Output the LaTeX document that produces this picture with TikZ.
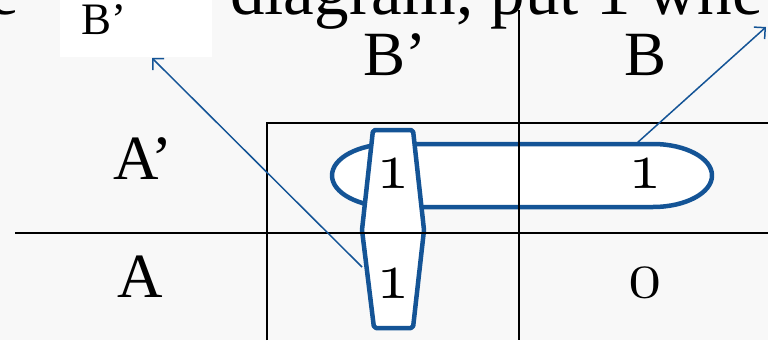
\RequirePackage{fix-cm}
\documentclass[tikz,border=0pt]{standalone}
\usepackage{fontspec}
\setmainfont{Liberation Serif}
\usetikzlibrary{arrows.meta}
\definecolor{kblue}{RGB}{20,84,150}
\definecolor{bgpat}{RGB}{248,248,248}
\newcommand{\osdigit}[1]{{\usefont{OML}{cmm}{m}{it}#1}}
\begin{document}
\begin{tikzpicture}[x=1pt,y=-1pt,
  gridline/.style={line width=2.5pt,black},
  kloop/.style={line width=4.5pt,draw=kblue,fill=white,line join=round},
  pointer/.style={line width=1.5pt,kblue,-{Straight Barb[length=8pt,width=16pt,line width=1.5pt]}},
  lbl/.style={font=\fontsize{63}{63}\selectfont,inner sep=0pt,anchor=base},
  digit/.style={font=\fontsize{68}{68}\selectfont,inner sep=0pt,anchor=base},
  headtxt/.style={font=\fontsize{69}{69}\selectfont,inner sep=0pt,anchor=base west},
]
\useasboundingbox (0,0) rectangle (768,340);
\clip (0,0) rectangle (768,340);
\fill[bgpat] (0,0) rectangle (768,340);
% cropped slide text at the top
\node[headtxt] (head1) at (-12,14) {e};
\node[headtxt] (head2) at (230,14) {diagram, put 1 whe};
% white tag box
\node[fill=white,minimum width=152pt,minimum height=57pt,anchor=north west,inner sep=0pt] (tag) at (60,0) {};
\node[font=\fontsize{45}{45}\selectfont,inner sep=0pt,anchor=base west] (tagtxt) at (81,34) {B’};
% loops
\filldraw[kloop] (391,144) -- (653,144)
  arc[start angle=-90,end angle=90,x radius=59,y radius=31.5]
  -- (391,207)
  arc[start angle=90,end angle=270,x radius=59,y radius=31.5] -- cycle;
\filldraw[kloop,rounded corners=2pt] (373,130) -- (413,130) -- (424,230) -- (413,328) -- (374,328) -- (362,230) -- cycle;
% grid
\draw[gridline] (15,233) -- (768,233);
\draw[gridline] (519,10) -- (519,340);
\draw[gridline] (267,340) -- (267,123) -- (768,123);
% labels
\node[lbl] (lbB1) at (395,75) {B’};
\node[lbl] (lbB) at (646,75) {B};
\node[lbl] (lbA1) at (143,179) {A’};
\node[lbl] (lbA) at (140,297) {A};
% cells
\node[digit] (c00) at (393,188) {\osdigit{1}};
\node[digit] (c01) at (645,188) {\osdigit{1}};
\node[digit] (c10) at (393,298) {\osdigit{1}};
\node[digit] (c11) at (645,297) {\osdigit{0}};
% pointers
\coordinate (p1) at (362,267);
\coordinate (t1) at (152,58);
\coordinate (p2) at (637,143);
\coordinate (t2) at (766,27);
\draw[pointer] (p1) -- (t1);
\draw[pointer] (p2) -- (t2);
\end{tikzpicture}
\end{document}
